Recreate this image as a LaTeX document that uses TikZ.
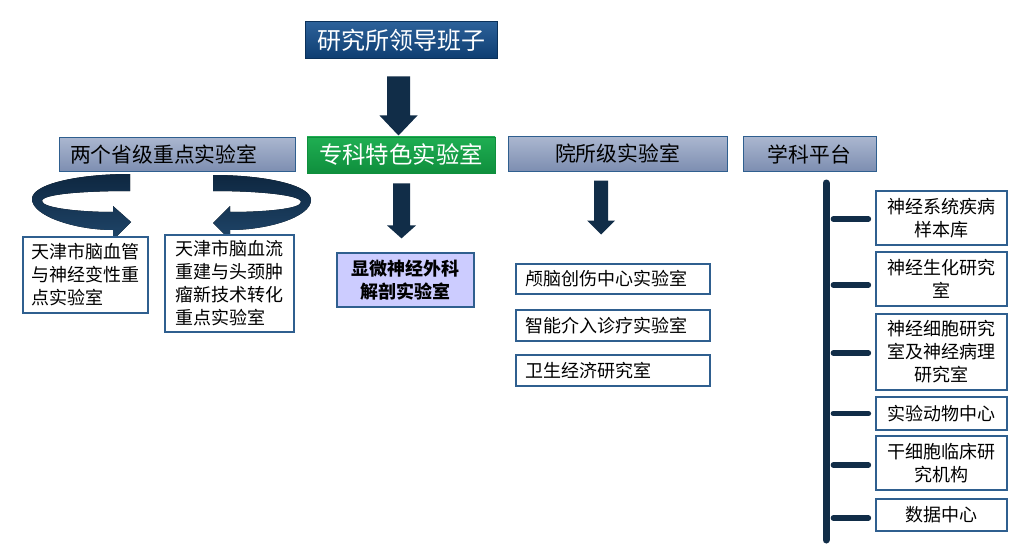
\documentclass[tikz,border=0pt]{standalone}
\usepackage{fontspec}
\setmainfont{Noto Sans CJK SC}
\usetikzlibrary{calc}
\definecolor{bdr}{HTML}{2F5F8F}
\definecolor{hdrT}{HTML}{AAB6CF}
\definecolor{hdrB}{HTML}{7D8EB1}
\definecolor{ttlT}{HTML}{2C6199}
\definecolor{ttlB}{HTML}{0E3D71}
\definecolor{grnT}{HTML}{1FAE52}
\definecolor{grnB}{HTML}{0F8F3D}
\definecolor{arrowc}{HTML}{112D48}
\definecolor{ribD}{HTML}{0E2740}
\definecolor{ribL}{HTML}{1F4569}
\definecolor{lav}{HTML}{CCCCFF}
\newcommand\blockarrow[7]{%
  \fill[arrowc] ($(#1)+(#2-#5,#3)$) -- ($(#1)+(#2+#5,#3)$) -- ($(#1)+(#2+#5,#4-#7)$)
    -- ($(#1)+(#2+#6,#4-#7)$) -- ($(#1)+(#2,#4)$) -- ($(#1)+(#2-#6,#4-#7)$)
    -- ($(#1)+(#2-#5,#4-#7)$) -- cycle;}
\begin{document}
\begin{tikzpicture}[x=1pt,y=-1pt,
  hdr/.style={draw=bdr, line width=1pt, top color=hdrT, bottom color=hdrB,
    minimum height=34pt, inner sep=0pt, font=\fontsize{20.8}{24}\selectfont},
  ttl/.style={draw=ttlB!80!black, line width=1pt, top color=ttlT, bottom color=ttlB,
    text=white, minimum width=192pt, minimum height=37pt, inner sep=0pt,
    font=\fontsize{24}{28}\selectfont},
  grn/.style={draw=grnB, line width=0.8pt, top color=grnT, bottom color=grnB,
    text=white, minimum width=188pt, minimum height=36pt, inner sep=0pt,
    font=\fontsize{23.4}{27}\selectfont},
  box/.style={draw=bdr, line width=1.2pt, fill=white, inner sep=0pt,
    font=\fontsize{18}{23}\selectfont},
  rbox/.style={box, minimum width=131pt, align=center},
  ybox/.style={box, minimum width=194pt, text width=176pt, align=left},
  bar/.style={draw=arrowc, line width=7pt, line cap=round},
  tick/.style={draw=arrowc, line width=5.5pt, line cap=round},
  rib/.style={top color=ribD, bottom color=ribL}
]
\useasboundingbox[fill=white] (0,0) rectangle (1033,559);

% top level
\node[ttl] (lead) at (401,40.5) {研究所领导班子};

% headers
\node[hdr, minimum width=236pt, text width=214pt, align=left] (prov) at (177,154.5) {两个省级重点实验室};
\node[grn] (spec) at (401,155) {专科特色实验室};
\node[hdr, minimum width=219pt] (inst) at (617.5,154) {院所级实验室};
\node[hdr, minimum width=133pt] (disc) at (809.5,154) {学科平台};

% block arrows
\blockarrow{lead.south}{-2.5}{17}{76}{11.5}{19}{20}
\blockarrow{spec.south}{0.5}{10}{65}{8.5}{14.5}{13}
\blockarrow{inst.south}{-16.5}{9}{63}{7}{14}{14}

% curved ribbon arrows
\fill[rib] (130,174) .. controls (78,174) and (32,184) .. (32,199)
  .. controls (32,216) and (75,230) .. (113,230)
  -- (113,240) -- (131,222) -- (113,206) -- (113,212)
  .. controls (80,212) and (42,208) .. (42,201)
  .. controls (42,194) and (85,191) .. (130,191) -- cycle;
\begin{scope}[xshift=343pt, xscale=-1]
\fill[rib] (130,175) .. controls (78,175) and (32,185) .. (32,200)
  .. controls (32,217) and (75,230) .. (113,230)
  -- (113,240) -- (130,223) -- (113,206) -- (113,212)
  .. controls (80,212) and (42,209) .. (42,202)
  .. controls (42,195) and (85,191) .. (130,191) -- cycle;
\end{scope}

% left boxes
\node[box, minimum width=125pt, minimum height=76pt, text width=108pt, align=left] (b1) at (85.5,275)
  {天津市脑血管\\与神经变性重\\点实验室};
\node[box, minimum width=129pt, minimum height=97pt, text width=108pt, align=left] (b2) at (229.5,283.5)
  {天津市脑血流\\重建与头颈肿\\瘤新技术转化\\重点实验室};

% micro lab
\node[box, fill=lav, minimum width=137pt, minimum height=54pt, align=center,
  font=\fontsize{18}{23}\selectfont\bfseries] (micro) at (405.5,280) {显微神经外科\\解剖实验室};

% institute labs
\node[ybox, minimum height=30pt] (y1) at (613,279) {颅脑创伤中心实验室};
\node[ybox, minimum height=31pt] (y2) at (613,325.5) {智能介入诊疗实验室};
\node[ybox, minimum height=31pt] (y3) at (613,370.5) {卫生经济研究室};

% discipline platforms
\node[rbox, minimum height=54pt] (r1) at (941.5,218) {神经系统疾病\\样本库};
\node[rbox, minimum height=54pt] (r2) at (941.5,279) {神经生化研究\\室};
\node[rbox, minimum height=76pt] (r3) at (941.5,352) {神经细胞研究\\室及神经病理\\研究室};
\node[rbox, minimum height=33pt] (r4) at (941.5,413.5) {实验动物中心};
\node[rbox, minimum height=54pt] (r5) at (941.5,463) {干细胞临床研\\究机构};
\node[rbox, minimum height=32pt] (r6) at (941.5,515) {数据中心};

\coordinate (bartop) at (826,183);
\coordinate (barbot) at (826,540);
\draw[bar] (bartop) -- (barbot);
\draw[tick] ($(r1.west)+(-42,1)$) -- ($(r1.west)+(-7,1)$);
\draw[tick] ($(r2.west)+(-42,6)$) -- ($(r2.west)+(-7,6)$);
\draw[tick] ($(r3.west)+(-42,1)$) -- ($(r3.west)+(-7,1)$);
\draw[tick] ($(r4.west)+(-42,0)$) -- ($(r4.west)+(-7,0)$);
\draw[tick] ($(r5.west)+(-42,2)$) -- ($(r5.west)+(-7,2)$);
\draw[tick] ($(r6.west)+(-42,3)$) -- ($(r6.west)+(-7,3)$);
\end{tikzpicture}
\end{document}
